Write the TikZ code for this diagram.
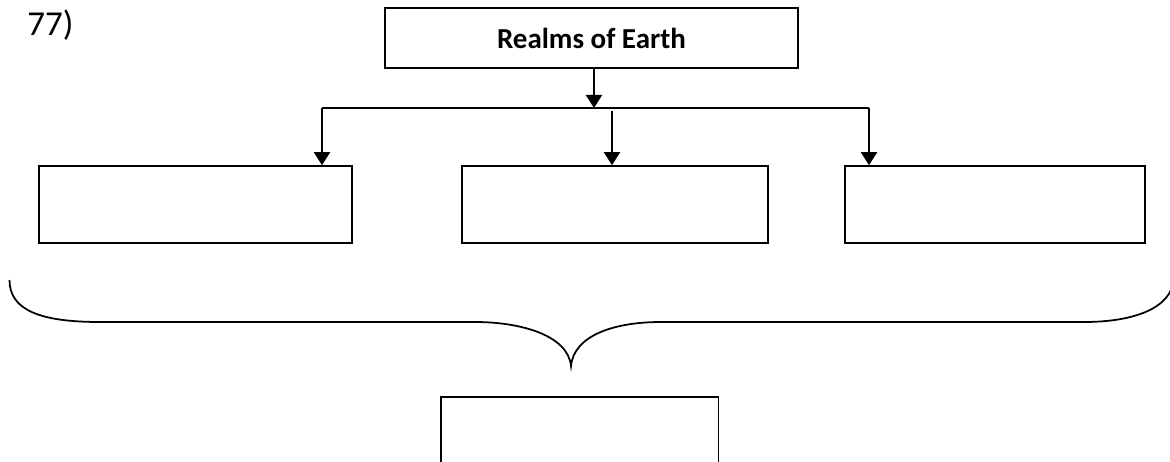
\documentclass[tikz,border=0pt]{standalone}
\usepackage{fontspec}
\setmainfont{Carlito}
\usetikzlibrary{arrows.meta,positioning,calc}
\definecolor{ink}{RGB}{0,0,0}
\tikzset{
  >={Triangle[length=2.6mm,width=3.2mm]},
  box/.style={draw=ink,line width=0.9pt,rectangle,minimum height=15.4mm,
    minimum width=#1,inner sep=0pt},
  box/.default=60mm,
  head/.style={draw=ink,line width=0.9pt,rectangle,minimum height=12mm,
    minimum width=82.6mm,font=\fontsize{16.5}{18}\selectfont\bfseries},
  flow/.style={->,line width=1.1pt,draw=ink},
  bus/.style={line width=0.9pt,draw=ink},
  brace/.style={line width=1pt,draw=ink},
  qno/.style={font=\fontsize{19.9}{22}\selectfont,anchor=base west,inner sep=0pt},
}

\begin{document}
\begin{tikzpicture}
    \clip (0,0) rectangle (23.4,-9.24);
    \useasboundingbox (0,0) rectangle (23.4,-9.24);
    \node[qno] (qno) at (0.54,-0.72) {77)};
    \node[head] (realms) at (11.83,-0.76) {Realms of Earth};
    % the three realms
    \foreach \x/\w/\n in {3.91/62.6mm/lith, 12.30/61.2mm/hydr, 19.90/60mm/atmo}
      \node[box=\w] (\n) at (\x,-4.09) {};
    \node[box=55.5mm,minimum height=30mm,anchor=north] (bio) at (11.595,-7.92) {};
    % connectors
    \coordinate (busL) at (6.44,-2.16);
    \coordinate (busM) at (11.88,-2.16);
    \coordinate (busR) at (17.38,-2.16);
    \coordinate (midA) at (12.24,-2.22);
    \draw[flow] (realms.south -| busM) -- (busM);
    \draw[bus] (busL) -- (busR);
    \draw[flow] (busL) -- (busL |- lith.north);
    \draw[flow] (midA) -- (midA |- hydr.north);
    \draw[flow] (busR) -- (busR |- atmo.north);
    % brace
    \draw[brace] (0.19,-5.6) .. controls (0.19,-6.2) and (0.8,-6.44) .. (2.0,-6.44)
      -- (9.5,-6.44) .. controls (10.4,-6.44) and (11.36,-6.7) .. (11.42,-7.32)
      .. controls (11.48,-6.7) and (12.3,-6.44) .. (13.22,-6.44)
      -- (21.68,-6.44) .. controls (22.6,-6.44) and (23.44,-6.2) .. (23.48,-5.56);
\end{tikzpicture}
\end{document}
